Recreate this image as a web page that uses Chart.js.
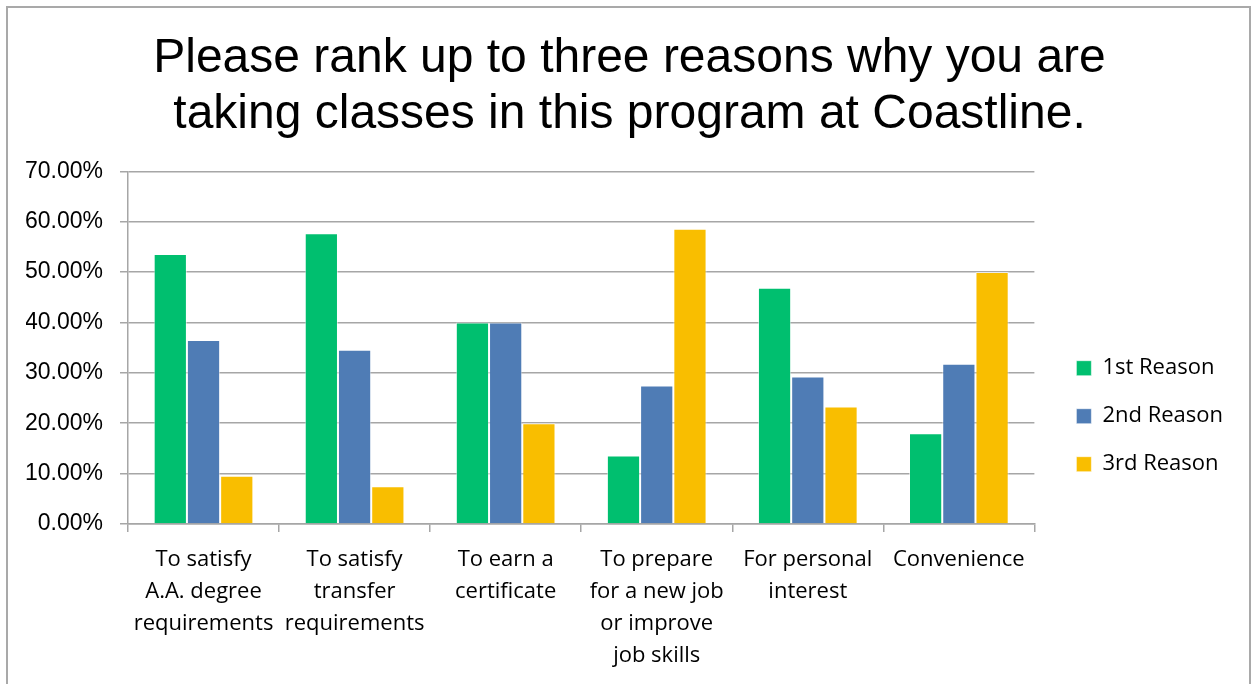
<!DOCTYPE html>
<html>
<head>
<meta charset="utf-8">
<script src="https://cdn.jsdelivr.net/npm/chart.js@4.4.1/dist/chart.umd.min.js"></script>
<style>
  html, body { margin: 0; padding: 0; background: #fff; overflow: hidden; }
  #wrap { position: relative; width: 1253px; height: 684px; }
  #frame { position: absolute; left: 6px; top: 6px; width: 1241px; height: 700px;
           border: 2px solid #a9a9a9; pointer-events: none; }
  canvas { position: absolute; left: 0; top: 0; }
</style>
</head>
<body>
<div id="wrap">
  <canvas id="chart" width="1253" height="684"></canvas>
  <div id="frame"></div>
</div>
<script>
// Survey categories (multi-line axis labels)
const categories = [
  ['To satisfy', 'A.A. degree', 'requirements'],
  ['To satisfy', 'transfer', 'requirements'],
  ['To earn a', 'certificate'],
  ['To prepare', 'for a new job', 'or improve', 'job skills'],
  ['For personal', 'interest'],
  ['Convenience']
];

// Share of respondents (%) per rank
const firstReason  = [53.6, 57.7, 40.0, 13.6, 46.9, 18.0];
const secondReason = [36.5, 34.6, 40.0, 27.5, 29.3, 31.8];
const thirdReason  = [9.6, 7.5, 20.0, 58.6, 23.3, 50.0];

const seriesNames = ['1st Reason', '2nd Reason', '3rd Reason'];
const yTickLabels = ['0.00%', '10.00%', '20.00%', '30.00%', '40.00%', '50.00%', '60.00%', '70.00%'];

const titleLines = [
  'Please rank up to three reasons why you are',
  'taking classes in this program at Coastline.'
];

Chart.defaults.font.family = "'Open Sans', Lato, sans-serif";
Chart.defaults.color = '#000';

const gridGray = '#a6a6a6';
const barEdge = 'rgba(255,255,255,0.55)';

new Chart(document.getElementById('chart'), {
  type: 'bar',
  data: {
    labels: categories,
    datasets: [
      { label: seriesNames[0], data: firstReason,  backgroundColor: '#00bf6f', borderColor: barEdge, borderWidth: 1, xAxisID: 'x', yAxisID: 'y' },
      { label: seriesNames[1], data: secondReason, backgroundColor: '#4f7cb5', borderColor: barEdge, borderWidth: 1, xAxisID: 'x', yAxisID: 'y' },
      { label: seriesNames[2], data: thirdReason,  backgroundColor: '#f9be00', borderColor: barEdge, borderWidth: 1, xAxisID: 'x', yAxisID: 'y' }
    ]
  },
  options: {
    responsive: false,
    animation: false,
    events: [],
    layout: { padding: { top: 8, left: 26, right: 20, bottom: 0 } },
    categoryPercentage: 0.66,
    barPercentage: 1.0,
    plugins: {
      tooltip: { enabled: false },
      title: {
        display: true,
        text: titleLines,
        color: '#000',
        font: { family: "'Liberation Sans', Arial, sans-serif", size: 48, weight: 'normal', lineHeight: 1.17 },
        padding: { top: 23, bottom: 28 }
      },
      legend: {
        display: true,
        position: 'right',
        align: 'center',
        title: { display: true, text: '', padding: { top: 126, bottom: 0 } },
        labels: {
          boxWidth: 15,
          boxHeight: 15,
          padding: 26,
          color: '#000',
          font: { size: 22 }
        }
      }
    },
    scales: {
      x: {
        offset: true,
        grid: {
          display: true,
          offset: true,
          drawOnChartArea: false,
          drawTicks: true,
          tickLength: 8,
          color: gridGray,
          lineWidth: 1.5
        },
        border: { display: true, color: gridGray, width: 1.5 },
        ticks: {
          autoSkip: false,
          maxRotation: 0,
          minRotation: 0,
          padding: 12,
          color: '#000',
          font: { size: 22, lineHeight: 32 / 22 }
        }
      },
      y: {
        position: 'left',
        min: 0,
        max: 70,
        afterFit: (scale) => { scale.width = 102; },
        grid: {
          color: gridGray,
          lineWidth: 1.5,
          drawTicks: true,
          tickLength: 8
        },
        border: { display: true, color: gridGray, width: 1.5 },
        ticks: {
          stepSize: 10,
          padding: 17,
          color: '#000',
          font: { family: "'Liberation Sans', Arial, sans-serif", size: 23 },
          callback: (value, index) => yTickLabels[index]
        }
      },
      // empty right-hand band separating the plot from the legend
      gap: {
        type: 'linear',
        axis: 'y',
        position: 'right',
        display: true,
        grid: { display: false },
        border: { display: false },
        ticks: { display: false },
        afterFit: (scale) => { scale.width = 16; }
      }
    }
  }
});
</script>
</body>
</html>
